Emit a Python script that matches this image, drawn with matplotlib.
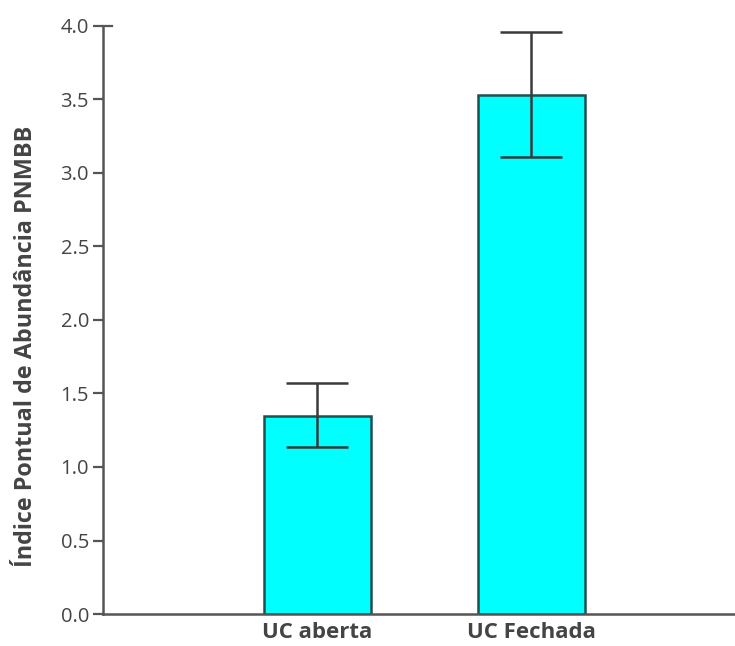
import matplotlib.pyplot as plt
import numpy as np

plt.rcParams['font.family'] = ['Open Sans', 'DejaVu Sans']

categories = ["UC aberta", "UC Fechada"]
means = [1.35, 3.53]
err_low = [1.135, 3.11]
err_high = [1.57, 3.96]

x = np.arange(len(categories))
yerr = [np.array(means) - np.array(err_low), np.array(err_high) - np.array(means)]

fig = plt.figure(figsize=(7.35, 6.46), dpi=100)
ax = fig.add_axes([0.140, 0.0495, 0.86, 0.9105])

ax.bar(x, means, width=0.5, color='#00FFFF', edgecolor='#1f4f4f', linewidth=1.8,
       zorder=2)
ax.errorbar(x, means, yerr=yerr, fmt='none', ecolor='#3a3a3a', elinewidth=1.8,
            capsize=22, capthick=1.8, zorder=3)

ax.set_xlim(-1.0, 1.95)
ax.set_ylim(0, 4.0)
ticks = np.arange(0, 4.01, 0.5)
ax.set_yticks(ticks)
ax.set_yticklabels([f"{v:.1f}" for v in ticks])
ax.set_xticks(x)
ax.set_xticklabels(categories, fontweight='bold', fontsize=16, color='#444444')

for s in ['top', 'right']:
    ax.spines[s].set_visible(False)
for s in ['left', 'bottom']:
    ax.spines[s].set_color('#555555')
    ax.spines[s].set_linewidth(1.8)

ax.tick_params(axis='y', length=7, width=1.6, color='#555555', labelsize=14.5,
               labelcolor='#444444', pad=3)
ax.tick_params(axis='x', length=0, pad=6)
# small cap at the top of the y axis
ax.axhline(4.0, xmin=0, xmax=0.015, color='#555555', linewidth=1.6, clip_on=False)

ax.set_ylabel("Índice Pontual de Abundância PNMBB", fontweight='bold', fontsize=16.8,
              color='#444444')
ax.yaxis.set_label_coords(-0.103, 0.455)

fig.savefig("out.png", dpi=100)
